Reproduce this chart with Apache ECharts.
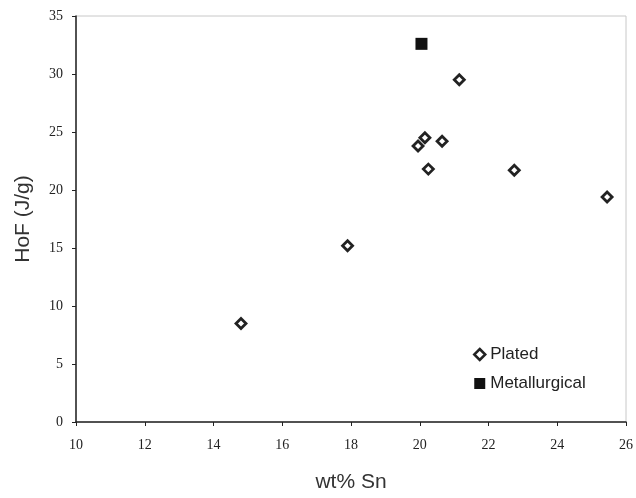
<!DOCTYPE html>
<html>
<head>
<meta charset="utf-8">
<script src="https://cdn.jsdelivr.net/npm/echarts@6/dist/echarts.min.js"></script>
<style>
  html, body { margin: 0; padding: 0; background: #fff; }
  #chart { width: 636px; height: 498px; }
</style>
</head>
<body>
<div id="chart"></div>
<script>
    // data
    var platedSn = [14.8, 17.9, 19.95, 20.15, 20.25, 20.65, 21.15, 22.75, 25.45];
    var platedHoF = [8.5, 15.2, 23.8, 24.5, 21.8, 24.2, 29.5, 21.7, 19.4];
    var metalSn = [20.05];
    var metalHoF = [32.6];
    var xTicks = [10, 12, 14, 16, 18, 20, 22, 24, 26];
    var yTicks = [0, 5, 10, 15, 20, 25, 30, 35];

    var pair = function (xs, ys) {
        return xs.map(function (x, i) { return [x, ys[i]]; });
    };

    var serif = '"Liberation Serif", "DejaVu Serif", serif';
    var sans = '"Liberation Sans", Arial, sans-serif';

    var chart = echarts.init(document.getElementById('chart'));
    var option = {
        animation: false,
        backgroundColor: '#fff',
        grid: {
            left: 76,
            top: 16,
            width: 550,
            height: 407,
            show: true,
            borderColor: '#c8c8c8',
            borderWidth: 1
        },
        legend: {
            orient: 'vertical',
            left: 468,
            top: 341,
            itemGap: 12,
            itemWidth: 11,
            itemHeight: 11,
            textStyle: { fontFamily: sans, fontSize: 17, color: '#222' },
            data: [
                { name: 'Plated', icon: 'diamond', itemStyle: { color: '#fff', borderColor: '#222', borderWidth: 2.5 } },
                { name: 'Metallurgical', icon: 'rect' }
            ]
        },
        xAxis: {
            type: 'value',
            min: xTicks[0],
            max: xTicks[xTicks.length - 1],
            interval: 2,
            name: 'wt% Sn',
            nameLocation: 'middle',
            nameGap: 50,
            nameTextStyle: { fontFamily: sans, fontSize: 21, color: '#333' },
            axisLine: { lineStyle: { color: '#222', width: 1.5 } },
            axisTick: { show: true, length: 4, lineStyle: { color: '#222' } },
            axisLabel: { fontFamily: serif, fontSize: 14, color: '#222', margin: 16 },
            splitLine: { show: false }
        },
        yAxis: {
            type: 'value',
            min: yTicks[0],
            max: yTicks[yTicks.length - 1],
            interval: 5,
            name: 'HoF (J/g)',
            nameLocation: 'middle',
            nameGap: 42,
            nameTextStyle: { fontFamily: sans, fontSize: 21, color: '#333' },
            axisLine: { lineStyle: { color: '#222', width: 1.5 } },
            axisTick: { show: true, length: 4, lineStyle: { color: '#222' } },
            axisLabel: { fontFamily: serif, fontSize: 14, color: '#222', margin: 13 },
            splitLine: { show: false }
        },
        series: [
            {
                name: 'Plated',
                type: 'scatter',
                symbol: 'diamond',
                symbolSize: 10,
                itemStyle: { color: '#fff', borderColor: '#222', borderWidth: 2.8, opacity: 1 },
                data: pair(platedSn, platedHoF)
            },
            {
                name: 'Metallurgical',
                type: 'scatter',
                symbol: 'rect',
                symbolSize: 12,
                itemStyle: { color: '#111', opacity: 1 },
                data: pair(metalSn, metalHoF)
            }
        ]
    };
    chart.setOption(option);
</script>
</body>
</html>
